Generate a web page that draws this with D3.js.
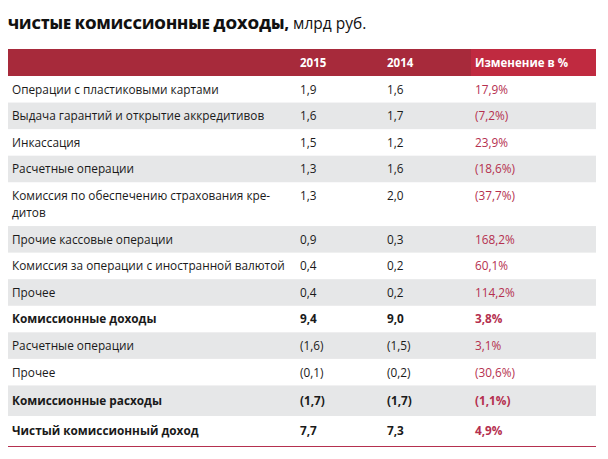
<!DOCTYPE html>
<html><head><meta charset="utf-8">
<script src="https://cdn.jsdelivr.net/npm/d3@7/dist/d3.min.js"></script>
<style>
html,body{margin:0;padding:0;background:#fff;}
svg{display:block;font-family:"Open Sans",sans-serif;}
</style></head>
<body><svg id="c" width="608" height="459"></svg>
<script>
const titleBold = "ЧИСТЫЕ КОМИССИОННЫЕ ДОХОДЫ,";
const titleRest = " млрд руб.";
const headers = ["", "2015", "2014", "Изменение в %"];
const labels = [
  "Операции с пластиковыми картами",
  "Выдача гарантий и открытие аккредитивов",
  "Инкассация",
  "Расчетные операции",
  "Комиссия по обеспечению страхования кре-\nдитов",
  "Прочие кассовые операции",
  "Комиссия за операции с иностранной валютой",
  "Прочее",
  "Комиссионные доходы",
  "Расчетные операции",
  "Прочее",
  "Комиссионные расходы",
  "Чистый комиссионный доход"
];
const values2015 = [1.9, 1.6, 1.5, 1.3, 1.3, 0.9, 0.4, 0.4, 9.4, -1.6, -0.1, -1.7, 7.7];
const values2014 = [1.6, 1.7, 1.2, 1.6, 2.0, 0.3, 0.2, 0.2, 9.0, -1.5, -0.2, -1.7, 7.3];
const changePct  = [17.9, -7.2, 23.9, -18.6, -37.7, 168.2, 60.1, 114.2, 3.8, 3.1, -30.6, -1.1, 4.9];
const boldRows   = [false,false,false,false,false,false,false,false,true,false,false,true,true];
const rowUnits   = [1,1,1,1,1.65,1,1,1,1,1,1,1.15,1.13];

const fmt = (v, pct) => {
  const s = d3.format(".1f")(Math.abs(v)).replace(".", ",") + (pct ? "%" : "");
  return v < 0 ? "(" + s + ")" : s;
};

const svg = d3.select("#c");
const L = 8, R = 596;
const FS = 11.8;
const colX = d3.scaleOrdinal().domain([0,1,2,3]).range([12, 300, 387, 475]);

// title
const t = svg.append("text").attr("x", 8).attr("y", 29).attr("fill", "#111");
t.append("tspan").attr("font-weight", 800).attr("font-size", 14.6).text(titleBold);
t.append("tspan").attr("font-weight", 400).attr("font-size", 15.5).text(titleRest);

// header
const headTop = 49, headBot = 76;
svg.append("rect").attr("x", L).attr("y", headTop).attr("width", R - L).attr("height", headBot - headTop).attr("fill", "#a72a3b");
svg.append("rect").attr("x", 471).attr("y", headTop).attr("width", R - 471).attr("height", headBot - headTop).attr("fill", "#c02a40");
headers.forEach((h, i) => {
  if (!h) return;
  svg.append("text").attr("x", colX(i)).attr("y", (headTop + headBot) / 2 + 4.3)
    .attr("font-size", 11.5).attr("font-weight", 700).attr("fill", "#fff").text(h);
});

// rows
const cum = [0];
rowUnits.forEach(u => cum.push(cum[cum.length - 1] + u));
const y = d3.scaleLinear().domain([0, cum[cum.length - 1]]).range([76, 446]);

labels.forEach((lab, i) => {
  const y0 = y(cum[i]), y1 = y(cum[i + 1]);
  if (i % 2 === 1) {
    svg.append("rect").attr("x", L).attr("y", y0).attr("width", R - L).attr("height", y1 - y0).attr("fill", "#e6e7e8");
  }
  const fw = boldRows[i] ? 700 : 400;
  const lines = lab.split("\n");
  const firstY = lines.length > 1 ? y0 + 17.5 : (y0 + y1) / 2 + 4.4;
  const tl = svg.append("text").attr("x", colX(0)).attr("font-size", FS).attr("font-weight", fw).attr("fill", "#1a1a1a");
  lines.forEach((ln, k) => {
    tl.append("tspan").attr("x", colX(0)).attr("y", firstY + k * 17).text(ln);
  });
  const cy = firstY;
  svg.append("text").attr("x", colX(1)).attr("y", cy).attr("font-size", FS).attr("font-weight", fw).attr("fill", "#1a1a1a").text(fmt(values2015[i]));
  svg.append("text").attr("x", colX(2)).attr("y", cy).attr("font-size", FS).attr("font-weight", fw).attr("fill", "#1a1a1a").text(fmt(values2014[i]));
  svg.append("text").attr("x", colX(3)).attr("y", cy).attr("font-size", FS).attr("font-weight", fw).attr("fill", "#b5304f").text(fmt(changePct[i], true));
});

svg.append("line").attr("x1", L).attr("x2", R).attr("y1", 446.5).attr("y2", 446.5).attr("stroke", "#b5304f").attr("stroke-width", 1);
</script></body></html>
